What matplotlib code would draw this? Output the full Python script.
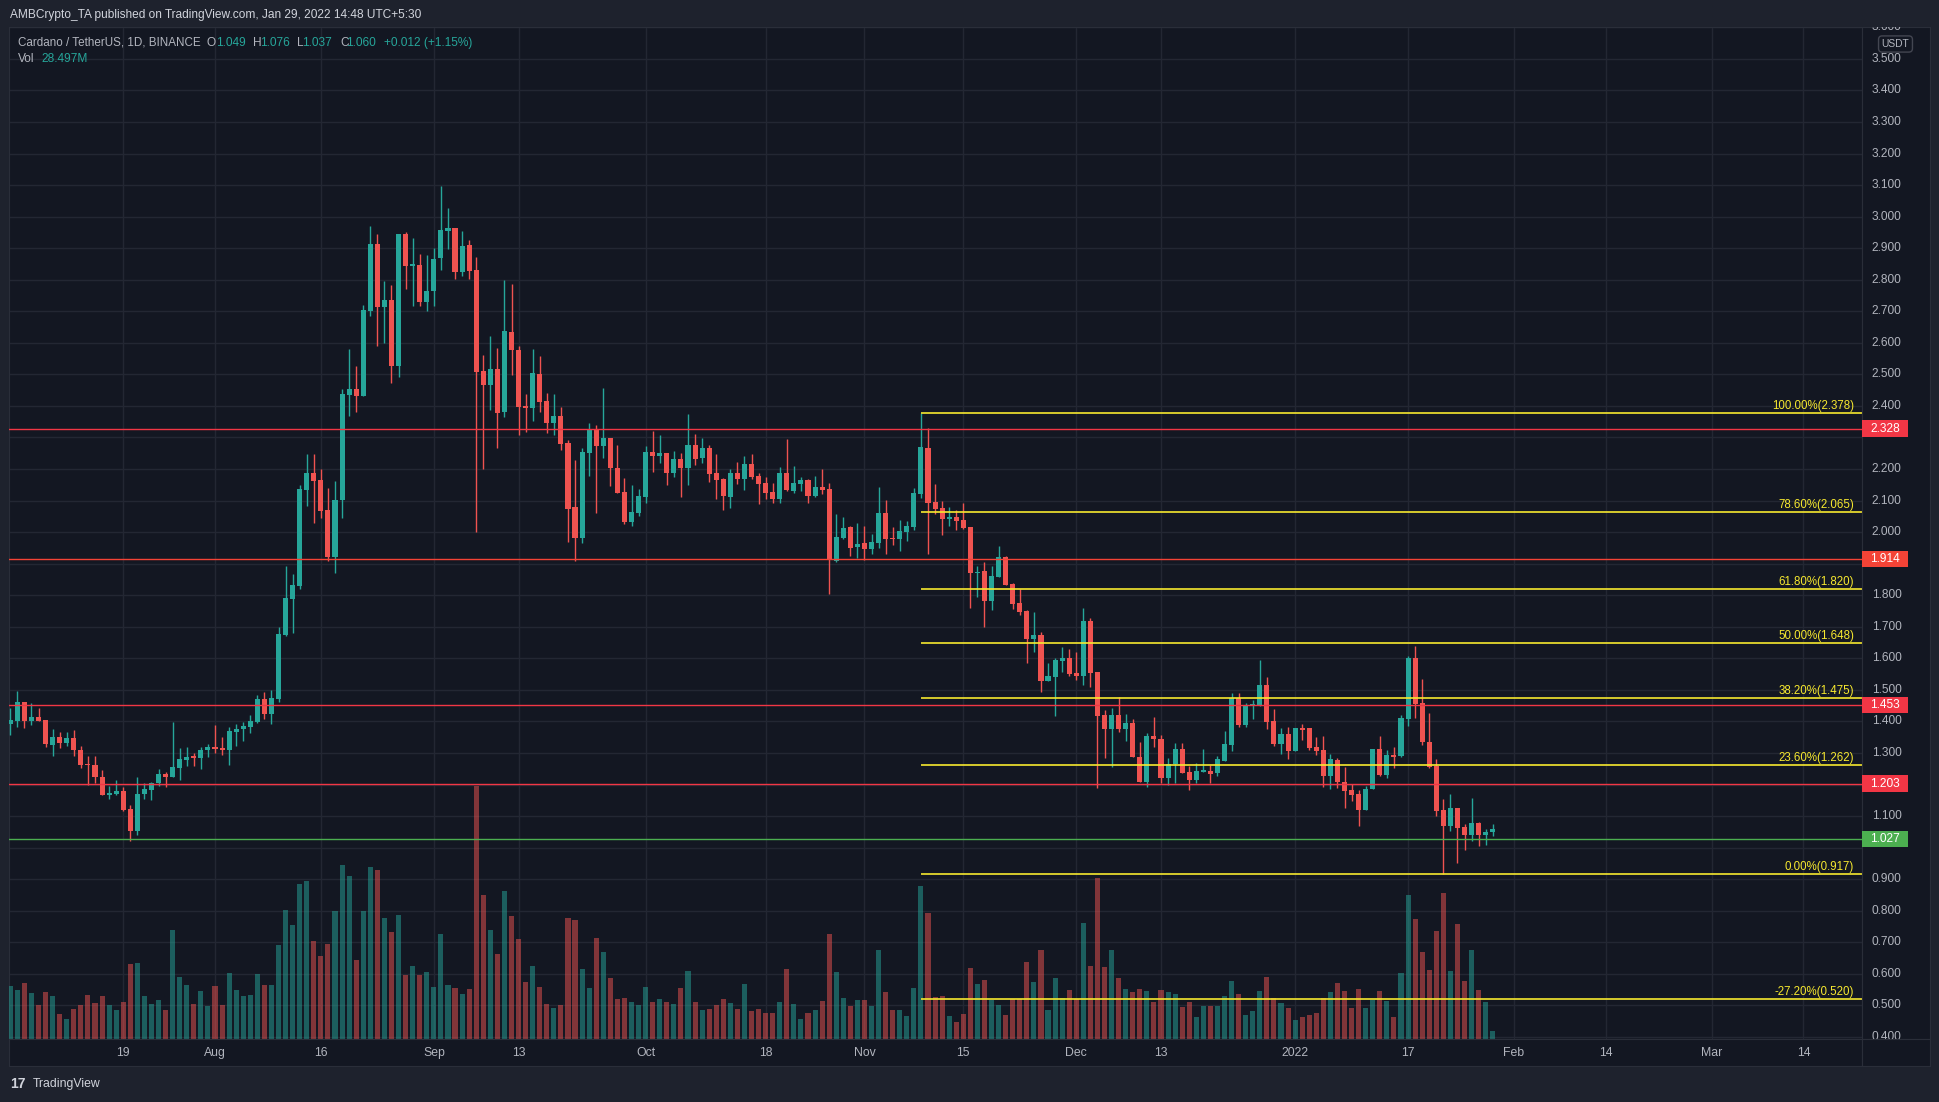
import numpy as np
import pandas as pd
import matplotlib
matplotlib.use("Agg")
import matplotlib.pyplot as plt
from matplotlib.patches import Rectangle

plt.rcParams["font.family"] = ["Liberation Sans", "DejaVu Sans"]

# ADA/USDT daily candles, 2021-07-03 .. 2022-01-29
start_date = "2021-07-03"

opens = [
    1.393, 1.403, 1.461, 1.403, 1.414, 1.404, 1.325, 1.351, 1.332, 1.348,
    1.311, 1.263, 1.262, 1.225, 1.167, 1.170, 1.181, 1.121, 1.054, 1.170,
    1.184, 1.206, 1.232, 1.223, 1.252, 1.277, 1.288, 1.285, 1.308, 1.320,
    1.315, 1.308, 1.368, 1.375, 1.382, 1.399, 1.471, 1.424, 1.471, 1.673,
    1.789, 1.829, 2.135, 2.187, 2.166, 2.070, 1.922, 2.101, 2.436, 2.453,
    2.430, 2.701, 2.913, 2.715, 2.736, 2.525, 2.946, 2.842, 2.846, 2.730,
    2.763, 2.868, 2.955, 2.964, 2.825, 2.910, 2.831, 2.511, 2.466, 2.517,
    2.381, 2.634, 2.578, 2.399, 2.393, 2.501, 2.416, 2.346, 2.368, 2.282,
    2.080, 1.982, 2.251, 2.327, 2.273, 2.299, 2.203, 2.128, 2.033, 2.061,
    2.112, 2.254, 2.241, 2.251, 2.187, 2.232, 2.203, 2.276, 2.234, 2.266,
    2.187, 2.169, 2.112, 2.187, 2.169, 2.215, 2.178, 2.156, 2.127, 2.106,
    2.187, 2.131, 2.154, 2.165, 2.116, 2.143, 2.137, 1.909, 1.981, 2.016,
    1.954, 1.966, 1.945, 1.967, 2.061, 1.981, 1.979, 2.002, 2.017, 2.122,
    2.267, 2.096, 2.076, 2.043, 2.048, 2.038, 2.016, 1.871, 1.877, 1.783,
    1.858, 1.921, 1.836, 1.775, 1.750, 1.661, 1.674, 1.528, 1.541, 1.592,
    1.601, 1.554, 1.544, 1.718, 1.557, 1.420, 1.376, 1.420, 1.376, 1.395,
    1.287, 1.209, 1.354, 1.344, 1.221, 1.265, 1.313, 1.240, 1.214, 1.241,
    1.243, 1.238, 1.275, 1.325, 1.474, 1.389, 1.450, 1.450, 1.516, 1.401,
    1.328, 1.360, 1.306, 1.379, 1.379, 1.319, 1.310, 1.227, 1.278, 1.208,
    1.183, 1.170, 1.119, 1.186, 1.313, 1.230, 1.294, 1.290, 1.408, 1.601,
    1.458, 1.335, 1.259, 1.119, 1.069, 1.126, 1.065, 1.040, 1.078, 1.040,
    1.049,
]
highs = [
    1.443, 1.497, 1.461, 1.458, 1.443, 1.404, 1.376, 1.365, 1.365, 1.373,
    1.323, 1.289, 1.289, 1.245, 1.195, 1.216, 1.191, 1.136, 1.223, 1.206,
    1.209, 1.249, 1.240, 1.399, 1.315, 1.320, 1.300, 1.320, 1.330, 1.389,
    1.351, 1.382, 1.393, 1.399, 1.422, 1.484, 1.492, 1.499, 1.699, 1.893,
    1.867, 2.149, 2.248, 2.248, 2.200, 2.140, 2.162, 2.453, 2.580, 2.527,
    2.719, 2.971, 2.946, 2.796, 2.783, 2.946, 2.950, 2.933, 2.882, 2.879,
    2.899, 3.097, 3.028, 2.964, 2.954, 2.926, 2.872, 2.561, 2.621, 2.583,
    2.800, 2.787, 2.589, 2.438, 2.581, 2.558, 2.440, 2.438, 2.397, 2.292,
    2.228, 2.266, 2.346, 2.341, 2.457, 2.299, 2.276, 2.171, 2.149, 2.136,
    2.273, 2.320, 2.307, 2.251, 2.258, 2.251, 2.374, 2.312, 2.299, 2.276,
    2.248, 2.171, 2.200, 2.222, 2.241, 2.248, 2.187, 2.174, 2.156, 2.205,
    2.295, 2.210, 2.175, 2.168, 2.178, 2.200, 2.156, 2.057, 2.048, 2.019,
    2.029, 2.019, 1.994, 2.143, 2.102, 2.016, 2.038, 2.035, 2.140, 2.378,
    2.329, 2.153, 2.099, 2.080, 2.070, 2.092, 2.016, 1.893, 1.905, 1.893,
    1.956, 1.924, 1.839, 1.820, 1.753, 1.747, 1.683, 1.585, 1.601, 1.636,
    1.630, 1.620, 1.760, 1.728, 1.557, 1.436, 1.443, 1.477, 1.424, 1.408,
    1.335, 1.363, 1.414, 1.357, 1.284, 1.332, 1.332, 1.259, 1.268, 1.313,
    1.262, 1.290, 1.370, 1.490, 1.490, 1.458, 1.468, 1.595, 1.541, 1.439,
    1.379, 1.382, 1.379, 1.392, 1.379, 1.351, 1.354, 1.297, 1.284, 1.256,
    1.202, 1.183, 1.195, 1.313, 1.354, 1.310, 1.319, 1.420, 1.607, 1.639,
    1.534, 1.427, 1.281, 1.154, 1.170, 1.126, 1.075, 1.157, 1.081, 1.059,
    1.076,
]
lows = [
    1.358, 1.383, 1.379, 1.390, 1.403, 1.320, 1.289, 1.315, 1.322, 1.291,
    1.252, 1.199, 1.206, 1.167, 1.153, 1.167, 1.116, 1.022, 1.040, 1.153,
    1.150, 1.195, 1.191, 1.223, 1.216, 1.259, 1.258, 1.248, 1.287, 1.301,
    1.294, 1.262, 1.323, 1.339, 1.362, 1.396, 1.408, 1.393, 1.461, 1.670,
    1.679, 1.821, 2.084, 2.030, 2.044, 1.907, 1.872, 2.044, 2.367, 2.380,
    2.430, 2.684, 2.589, 2.599, 2.472, 2.493, 2.772, 2.716, 2.716, 2.702,
    2.716, 2.832, 2.897, 2.801, 2.812, 2.801, 2.002, 2.200, 2.387, 2.266,
    2.365, 2.498, 2.307, 2.317, 2.353, 2.382, 2.313, 2.307, 2.259, 1.969,
    1.910, 1.965, 2.179, 2.061, 2.235, 2.146, 2.123, 2.027, 2.020, 2.051,
    2.092, 2.191, 2.220, 2.149, 2.174, 2.112, 2.149, 2.212, 2.220, 2.159,
    2.105, 2.070, 2.077, 2.153, 2.133, 2.169, 2.089, 2.106, 2.093, 2.093,
    2.130, 2.125, 2.131, 2.093, 2.112, 2.121, 1.805, 1.905, 1.978, 1.925,
    1.919, 1.911, 1.932, 1.951, 1.932, 1.960, 1.941, 1.973, 2.008, 2.107,
    1.932, 2.058, 1.992, 2.020, 2.007, 2.010, 1.760, 1.794, 1.699, 1.753,
    1.858, 1.832, 1.756, 1.737, 1.585, 1.620, 1.493, 1.528, 1.417, 1.557,
    1.544, 1.531, 1.515, 1.509, 1.190, 1.284, 1.257, 1.367, 1.338, 1.288,
    1.209, 1.193, 1.320, 1.206, 1.200, 1.206, 1.238, 1.184, 1.205, 1.240,
    1.205, 1.227, 1.275, 1.306, 1.383, 1.383, 1.408, 1.450, 1.376, 1.322,
    1.297, 1.281, 1.306, 1.341, 1.310, 1.294, 1.192, 1.186, 1.189, 1.126,
    1.148, 1.069, 1.119, 1.186, 1.227, 1.221, 1.252, 1.287, 1.386, 1.411,
    1.325, 1.252, 1.100, 0.917, 1.053, 0.951, 0.993, 1.021, 1.005, 1.008,
    1.037,
]
closes = [
    1.404, 1.461, 1.403, 1.414, 1.403, 1.327, 1.351, 1.332, 1.348, 1.311,
    1.262, 1.262, 1.223, 1.167, 1.174, 1.181, 1.119, 1.054, 1.170, 1.185,
    1.206, 1.232, 1.223, 1.256, 1.281, 1.288, 1.285, 1.310, 1.320, 1.313,
    1.308, 1.369, 1.376, 1.386, 1.402, 1.471, 1.424, 1.474, 1.678, 1.791,
    1.832, 2.136, 2.187, 2.162, 2.068, 1.922, 2.102, 2.438, 2.453, 2.430,
    2.704, 2.913, 2.715, 2.736, 2.525, 2.946, 2.842, 2.849, 2.730, 2.764,
    2.866, 2.958, 2.964, 2.825, 2.907, 2.828, 2.508, 2.466, 2.517, 2.378,
    2.637, 2.578, 2.397, 2.393, 2.504, 2.412, 2.346, 2.368, 2.279, 2.074,
    1.982, 2.254, 2.327, 2.273, 2.299, 2.203, 2.123, 2.033, 2.064, 2.115,
    2.254, 2.241, 2.251, 2.187, 2.232, 2.203, 2.276, 2.232, 2.266, 2.184,
    2.166, 2.115, 2.187, 2.169, 2.215, 2.174, 2.154, 2.125, 2.106, 2.187,
    2.134, 2.156, 2.165, 2.116, 2.143, 2.134, 1.911, 1.985, 2.013, 1.951,
    1.963, 1.945, 1.969, 2.061, 1.979, 1.978, 2.004, 2.019, 2.124, 2.270,
    2.093, 2.074, 2.043, 2.048, 2.036, 2.013, 1.871, 1.875, 1.783, 1.861,
    1.921, 1.832, 1.772, 1.747, 1.661, 1.674, 1.528, 1.544, 1.595, 1.601,
    1.550, 1.544, 1.718, 1.553, 1.417, 1.376, 1.420, 1.376, 1.395, 1.288,
    1.209, 1.354, 1.344, 1.221, 1.265, 1.313, 1.238, 1.214, 1.243, 1.244,
    1.233, 1.281, 1.328, 1.474, 1.389, 1.452, 1.455, 1.516, 1.398, 1.328,
    1.360, 1.306, 1.379, 1.373, 1.316, 1.306, 1.227, 1.281, 1.208, 1.180,
    1.167, 1.119, 1.186, 1.313, 1.230, 1.294, 1.287, 1.411, 1.601, 1.455,
    1.335, 1.256, 1.116, 1.069, 1.126, 1.062, 1.040, 1.078, 1.040, 1.050,
    1.060,
]
# volume in millions ADA
volumes = [
    182, 169, 193, 158, 117, 162, 148, 87, 71, 104,
    117, 152, 124, 148, 117, 100, 128, 258, 261, 148,
    121, 135, 100, 374, 213, 186, 121, 165, 114, 182,
    117, 227, 169, 148, 152, 223, 186, 186, 323, 442,
    391, 531, 542, 336, 285, 326, 439, 596, 559, 271,
    439, 589, 579, 415, 367, 425, 220, 251, 220, 230,
    179, 360, 186, 176, 155, 172, 866, 494, 374, 292,
    507, 422, 343, 196, 251, 179, 121, 107, 117, 415,
    408, 241, 176, 347, 299, 210, 138, 141, 128, 117,
    179, 128, 138, 128, 121, 176, 234, 128, 100, 104,
    117, 138, 124, 104, 189, 97, 104, 90, 90, 128,
    241, 121, 70, 90, 100, 131, 360, 230, 141, 114,
    135, 135, 114, 306, 162, 100, 100, 80, 176, 524,
    432, 145, 148, 80, 59, 87, 244, 189, 203, 135,
    117, 83, 138, 138, 264, 196, 306, 100, 210, 141,
    169, 138, 398, 251, 552, 247, 306, 210, 172, 162,
    172, 165, 128, 169, 162, 155, 111, 128, 76, 114,
    114, 114, 148, 200, 155, 83, 97, 165, 213, 141,
    124, 107, 66, 76, 83, 90, 141, 162, 193, 165,
    107, 172, 107, 135, 165, 131, 76, 227, 494, 412,
    299, 237, 371, 500, 234, 394, 200, 306, 169, 128,
    29,
]

tick_dates = ["2021-07-19", "2021-08-01", "2021-08-16", "2021-09-01", "2021-09-13",
              "2021-10-01", "2021-10-18", "2021-11-01", "2021-11-15", "2021-12-01",
              "2021-12-13", "2022-01-01", "2022-01-17", "2022-02-01", "2022-02-14",
              "2022-03-01", "2022-03-14"]
tick_labels = ["19", "Aug", "16", "Sep", "13", "Oct", "18", "Nov", "15", "Dec",
               "13", "2022", "17", "Feb", "14", "Mar", "14"]

level_prices = [2.328, 1.914, 1.453, 1.203, 1.027]
level_colors = ["#f23645", "#f44336", "#f23645", "#f23645", "#4caf50"]

fib_start = "2021-11-09"
fib_pct = [100.0, 78.6, 61.8, 50.0, 38.2, 23.6, 0.0, -27.2]
fib_levels = [2.378, 2.065, 1.820, 1.648, 1.475, 1.262, 0.917, 0.520]

price_ticks = [0.4, 0.5, 0.6, 0.7, 0.8, 0.9, 1.0, 1.1, 1.2, 1.3, 1.4, 1.5, 1.6, 1.7,
               1.8, 1.9, 2.0, 2.1, 2.2, 2.3, 2.4, 2.5, 2.6, 2.7, 2.8, 2.9, 3.0, 3.1,
               3.2, 3.3, 3.4, 3.5, 3.6]

# ---- styling ----
PANE = "#131722"
OUTER = "#1e222d"
GRID = "#232733"
BORDER = "#2a2e39"
UP = "#26a69a"
DOWN = "#ef5350"
TXT = "#b2b5be"
FIB = "#f7e92f"

W, H = 1940, 1102
fig = plt.figure(figsize=(W / 100, H / 100), dpi=100, facecolor=OUTER)


def rect(x0, y0, x1, y1):
    return [x0 / W, 1 - y1 / H, (x1 - x0) / W, (y1 - y0) / H]


XL = (-0.18, 262.3)
YL = (0.3926, 3.601)
pane = rect(9, 27, 1862, 1039.3)

dates = pd.date_range(start_date, periods=len(closes), freq="D")
x = np.arange(len(closes))
o = np.array(opens)
h = np.array(highs)
l = np.array(lows)
c = np.array(closes)
up = c >= o
cols = np.where(up, UP, DOWN)

tick_pos = [(pd.Timestamp(d) - dates[0]).days for d in tick_dates]

# background + grid
ax_bg = fig.add_axes(pane, facecolor=PANE)
ax_bg.set_xlim(*XL)
ax_bg.set_ylim(*YL)
ax_bg.set_xticks(tick_pos)
ax_bg.set_yticks(price_ticks)
ax_bg.tick_params(length=0, labelleft=False, labelbottom=False)
ax_bg.grid(color=GRID, lw=1)
for s in ax_bg.spines.values():
    s.set_color(BORDER)

# volume
ax_vol = fig.add_axes(pane, facecolor="none")
ax_vol.set_xlim(*XL)
ax_vol.set_ylim(0, 3465)
ax_vol.bar(x, volumes, width=0.72, color=cols, alpha=0.5, lw=0)
ax_vol.axis("off")

# candles
ax = fig.add_axes(pane, facecolor="none")
ax.set_xlim(*XL)
ax.set_ylim(*YL)
ax.axis("off")
ax.vlines(x, l, h, colors=cols, lw=1)
body_lo = np.minimum(o, c)
body_h = np.maximum(np.abs(c - o), 0.004)
ax.bar(x, body_h, bottom=body_lo, width=0.72, color=cols, lw=0)

for p, col in zip(level_prices, level_colors):
    ax.axhline(p, color=col, lw=1)

fib_x0 = (pd.Timestamp(fib_start) - dates[0]).days
ax.hlines(fib_levels, fib_x0, XL[1], color=FIB, lw=1.2)
for pct, lv in zip(fib_pct, fib_levels):
    ax.annotate(f"{pct:.2f}%({lv:.3f})", xy=(1, lv), xycoords=("axes fraction", "data"),
                xytext=(-5.8, 0.8), textcoords="offset points", ha="right", va="bottom",
                color=FIB, fontsize=8.3)

# price scale
ax_sc = fig.add_axes(rect(1862, 27, 1930, 1039.3), facecolor=PANE)
ax_sc.set_xlim(0, 1)
ax_sc.set_ylim(*YL)
ax_sc.set_xticks([])
ax_sc.set_yticks([])
for s in ax_sc.spines.values():
    s.set_color(BORDER)
# plain tick labels, skipping the ones hidden under the coloured level tags
for p in price_ticks:
    if any(abs(p - lv) < 0.035 for lv in level_prices):
        continue
    ax_sc.text(0.145, p, f"{p:.3f}", ha="left", va="center", color=TXT, fontsize=8.6,
               clip_on=True, zorder=3)
for p, col in zip(level_prices, level_colors):
    ax_sc.add_patch(Rectangle((0, p - 0.026), 0.676, 0.052, color=col, lw=0, zorder=4))
    ax_sc.text(0.338, p, f"{p:.3f}", ha="center", va="center", color="white",
               fontsize=8.6, zorder=5)

fig.text(1895.5 / W, 1 - 44 / H, "USDT", ha="center", va="center", fontsize=7.4, color=TXT,
         bbox=dict(boxstyle="round,pad=0.3,rounding_size=0.35", fc=PANE, ec="#434651", lw=1))

# time scale
ax_t = fig.add_axes(rect(9, 1039.3, 1862, 1066), facecolor=PANE)
ax_t.set_xlim(*XL)
ax_t.set_ylim(0, 1)
ax_t.set_xticks([])
ax_t.set_yticks([])
for s in ax_t.spines.values():
    s.set_color(BORDER)
for pos, lab in zip(tick_pos, tick_labels):
    ax_t.text(pos, 0.5, lab, ha="center", va="center", color=TXT, fontsize=8.8)

ax_corner = fig.add_axes(rect(1862, 1039.3, 1930, 1066), facecolor=PANE)
ax_corner.set_xticks([])
ax_corner.set_yticks([])
for s in ax_corner.spines.values():
    s.set_color(BORDER)

# header
fig.text(9.6 / W, 1 - 15 / H, "AMBCrypto_TA published on TradingView.com, Jan 29, 2022 14:48 UTC+5:30",
         ha="left", va="center", color="#d1d4dc", fontsize=8.6)

legend_parts = [
    ("Cardano / TetherUS, 1D, BINANCE", 18, TXT),
    ("O", 206.7, TXT), (f"{opens[-1]:.3f}", 216, UP),
    ("H", 252.6, TXT), (f"{highs[-1]:.3f}", 260, UP),
    ("L", 296.6, TXT), (f"{lows[-1]:.3f}", 302.5, UP),
    ("C", 340, TXT), (f"{closes[-1]:.3f}", 346.5, UP),
    ("+0.012 (+1.15%)", 384, UP),
]
for s, px, col in legend_parts:
    fs = 8.35 if px == 18 else 8.6
    fig.text(px / W, 1 - 42.7 / H, s, ha="left", va="center", color=col, fontsize=fs)
fig.text(18 / W, 1 - 59.3 / H, "Vol", ha="left", va="center", color=TXT, fontsize=8.6)
fig.text(41.3 / W, 1 - 59.3 / H, "28.497M", ha="left", va="center", color=UP, fontsize=8.6)

# logo
fig.text(10 / W, 1 - 1084 / H, "17", ha="left", va="center", color="#d1d4dc",
         fontsize=10, fontweight="bold")
fig.text(33 / W, 1 - 1084 / H, "TradingView", ha="left", va="center", color="#d1d4dc",
         fontsize=8.8)

fig.savefig("out.png", dpi=100, facecolor=OUTER)
